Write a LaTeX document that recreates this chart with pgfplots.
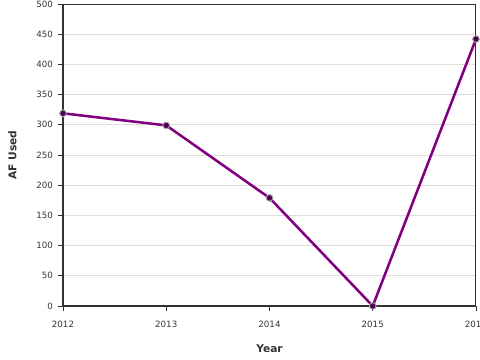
\documentclass[border=0pt]{standalone}
\usepackage{fontspec}
\setmainfont{DejaVu Sans}
\usepackage{pgfplots}
\pgfplotsset{compat=1.18}
\definecolor{axgray}{HTML}{333333}
\definecolor{gridgray}{HTML}{DDDDDD}
\definecolor{lineprp}{HTML}{800080}
\begin{document}
\begin{tikzpicture}[x=0.75pt,y=0.75pt]
\begin{axis}[
  at={(0,0)}, anchor=south west,
  scale only axis,
  width=309.75pt, height=226.5pt,
  xmin=2012, xmax=2016, ymin=0, ymax=500,
  xtick={2012,2013,2014,2015,2016},
  ytick={0,50,...,500},
  /pgf/number format/1000 sep={},
  /pgf/number format/assume math mode=true,
  ymajorgrids, grid style={gridgray, line width=0.6pt},
  tick align=outside, tick pos=left,
  major tick length=4pt,
  tick style={axgray, line width=0.6pt},
  axis line style={axgray, line width=0.75pt},
  ticklabel style={font=\fontsize{6.5}{7.5}\selectfont, text=axgray},
  xticklabel style={yshift=-4pt},
  xlabel={\textbf{Year}}, ylabel={\textbf{AF Used}},
  label style={font=\fontsize{8}{9}\selectfont, text=axgray},
  xlabel style={yshift=-6pt},
  ylabel style={yshift=8pt},
  clip=false,
]
\addplot[lineprp, line width=1.9pt, mark=*, mark size=2.5pt,
  mark options={fill=lineprp!60!black, draw=gray!70, line width=0.7pt}]
  coordinates {(2012,319) (2013,299) (2014,179) (2015,0) (2016,442)};
\draw[axgray, line width=1.6pt] (rel axis cs:0,0) -- (rel axis cs:0,1);
\draw[axgray, line width=1.6pt] (rel axis cs:0,0) -- (rel axis cs:1,0);
\end{axis}
\pgfresetboundingbox
\path (-63,-54) rectangle (417,306);
\end{tikzpicture}
\end{document}
